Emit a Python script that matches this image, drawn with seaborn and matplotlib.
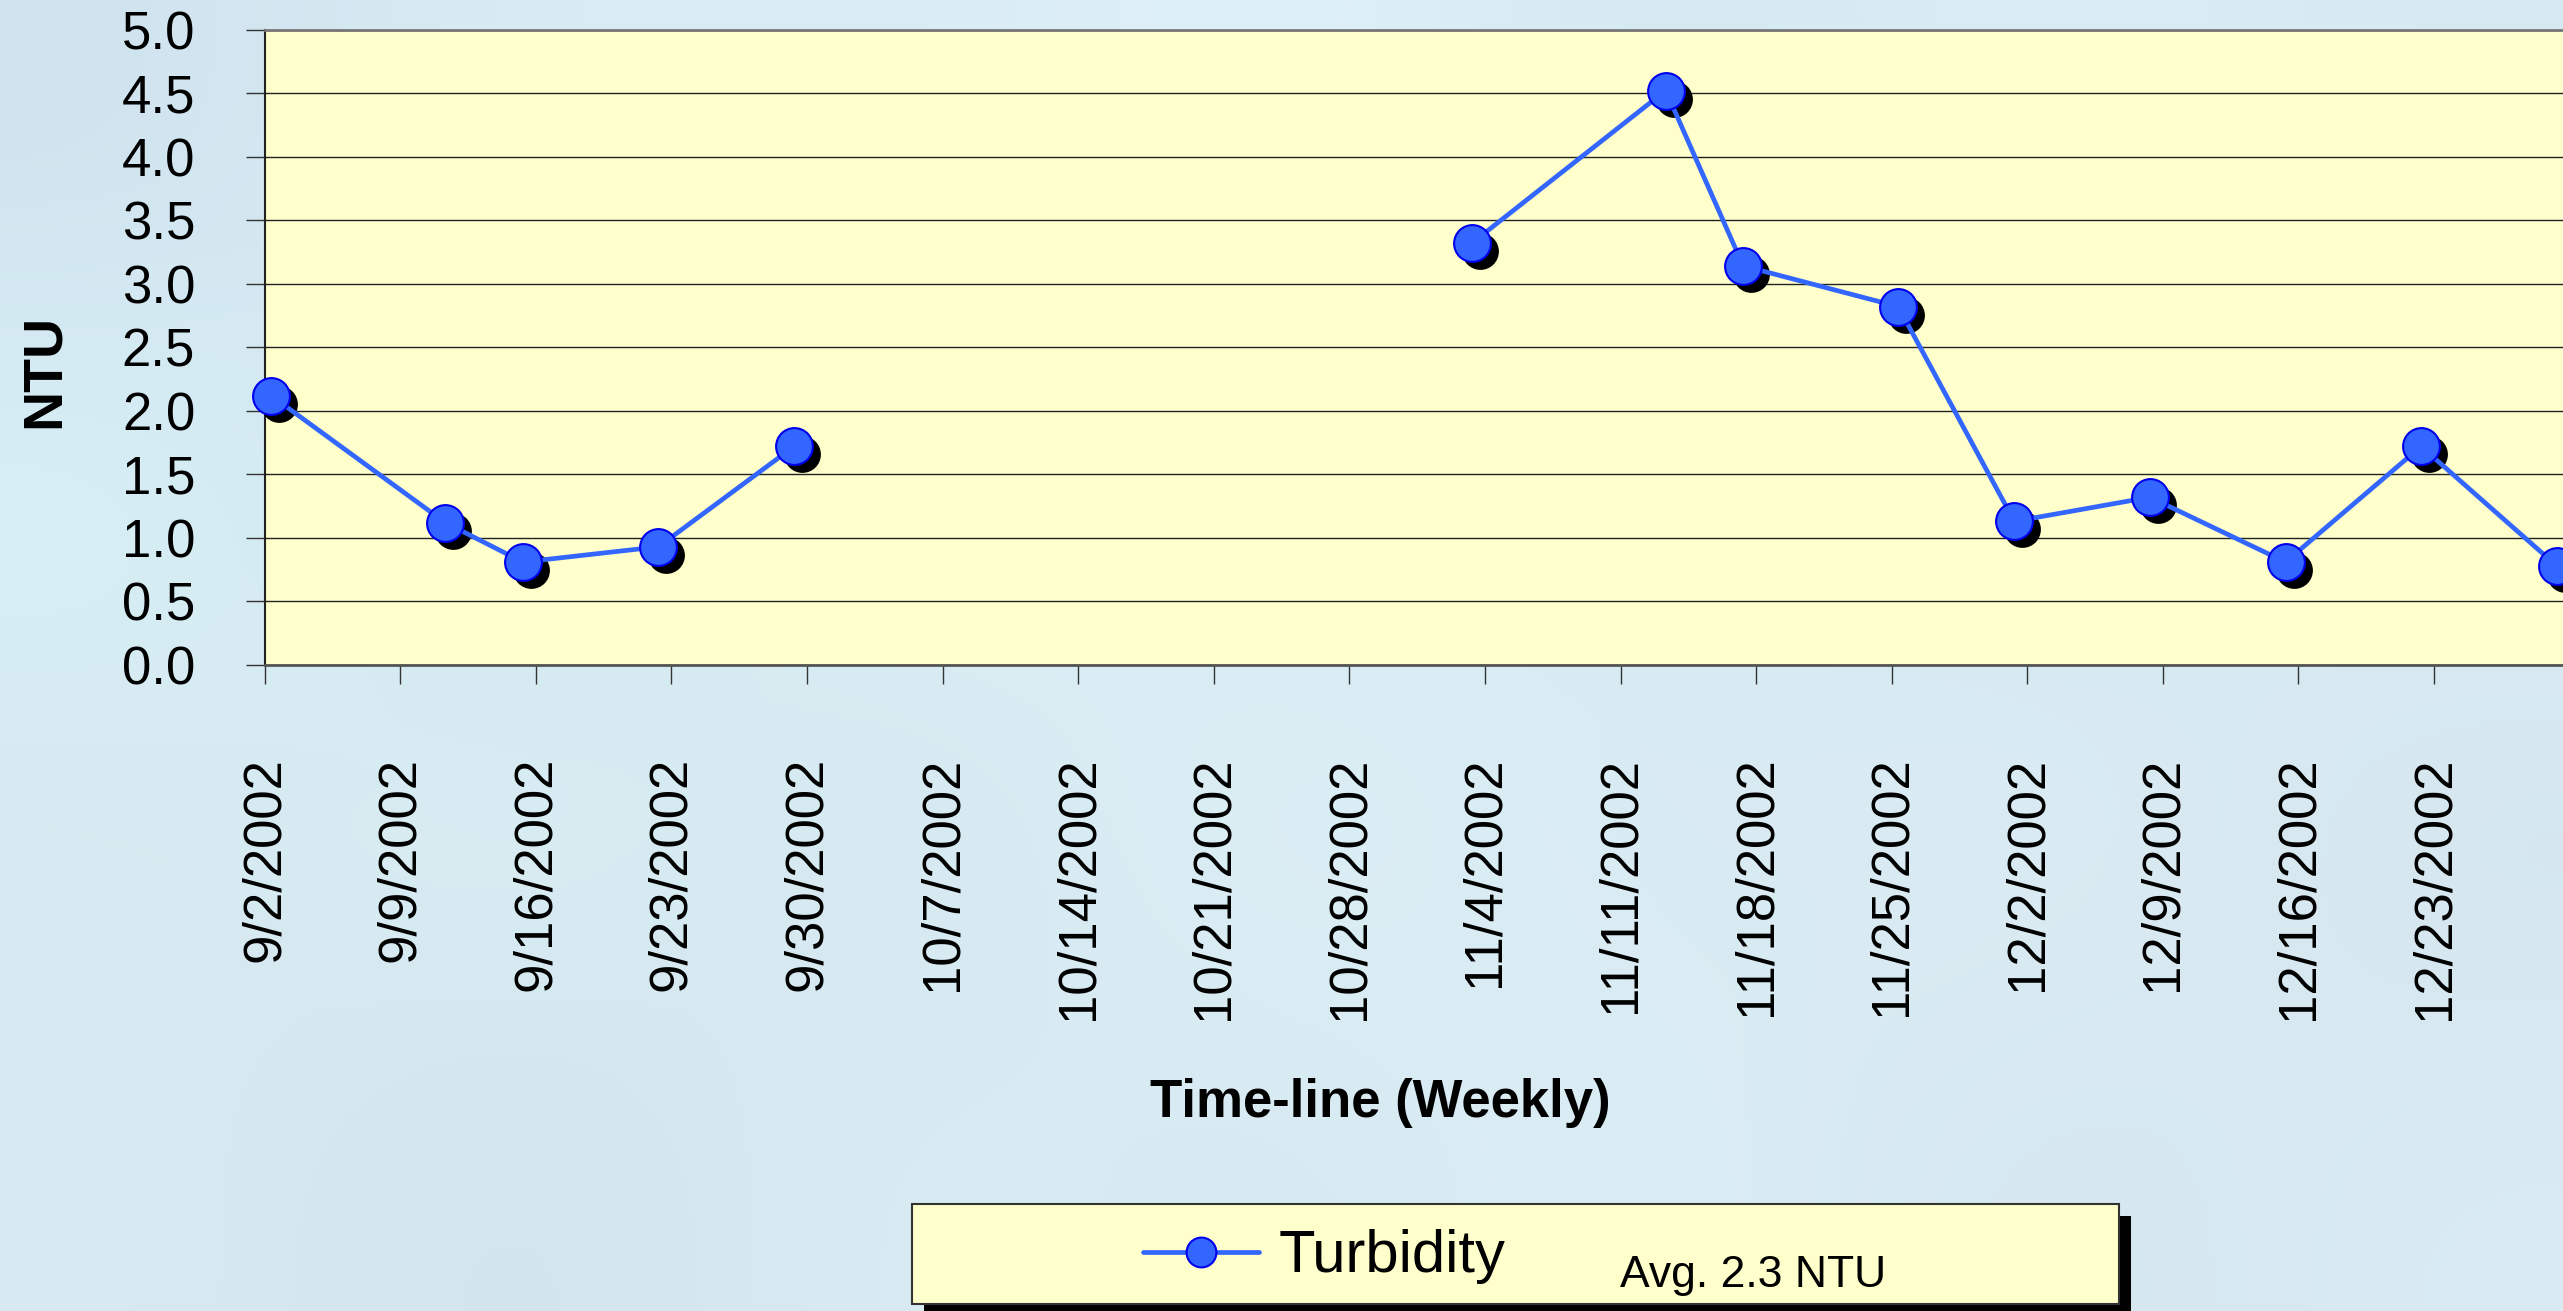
import numpy as np
import pandas as pd
import matplotlib
matplotlib.use("Agg")
import matplotlib.pyplot as plt
import matplotlib.dates as mdates
from matplotlib.colors import to_rgb
from matplotlib.patches import Rectangle
from matplotlib.transforms import ScaledTranslation
import seaborn as sns

# ===================== Data =====================
sample_dates = ["2002-09-02 08:00", "2002-09-11 08:00", "2002-09-15 08:00", "2002-09-22 08:00",
                "2002-09-29 08:00", "2002-11-03 08:00", "2002-11-13 08:00", "2002-11-17 08:00",
                "2002-11-25 08:00", "2002-12-01 08:00", "2002-12-08 08:00", "2002-12-15 08:00",
                "2002-12-22 08:00", "2002-12-29 08:00"]
turbidity = [2.12, 1.12, 0.81, 0.93, 1.72, 3.32, 4.52, 3.14, 2.82, 1.13, 1.32, 0.81, 1.72, 0.78]
# no samples in October -> line is broken in two runs
segment = [0, 0, 0, 0, 0, 1, 1, 1, 1, 1, 1, 1, 1, 1]
week_ticks = pd.date_range("2002-09-02", "2002-12-23", freq="7D")
y_ticks = [0.0, 0.5, 1.0, 1.5, 2.0, 2.5, 3.0, 3.5, 4.0, 4.5, 5.0]
series_label = "Turbidity"
avg_text = "Avg. 2.3 NTU"

df = pd.DataFrame({"date": pd.to_datetime(sample_dates), "ntu": turbidity, "segment": segment})

# ===================== Style =====================
sns.set_theme(style="ticks")
plt.rcParams["font.family"] = ["Liberation Sans", "DejaVu Sans"]
for key in ["text.color", "axes.labelcolor", "xtick.color", "ytick.color"]:
    plt.rcParams[key] = "black"

W, H = 2563, 1311
fig = plt.figure(figsize=(W / 100, H / 100), dpi=100)

# watery background picture (soft blue tones)
bg_hex = [
    ["#CFE2EE", "#DCEFF7", "#D7E9F2", "#E3F4FA", "#D2E6F0", "#DDEFF6", "#D6E8F2"],
    ["#D9F2F8", "#CDE0EA", "#E0F6FA", "#D3E5EE", "#DAEEF6", "#CFE3EE", "#DCEEF5"],
    ["#D5E8EF", "#DDF3F7", "#D1E3EC", "#E2F5F9", "#D6E7F0", "#E0F0F6", "#D3E4EE"],
    ["#D8EAF2", "#CFE1EB", "#DCEEF5", "#D4E6EF", "#DFF1F7", "#D2E4ED", "#DAEBF3"],
]
bg = np.array([[to_rgb(c) for c in row] for row in bg_hex])
bax = fig.add_axes([0, 0, 1, 1], zorder=-10)
bax.imshow(bg, aspect="auto", interpolation="bicubic", extent=[0, 1, 0, 1])
bax.set_axis_off()

# ===================== Plot area =====================
px_per_day = 19.37
left_px, top_px, bottom_px = 264.6, 29.5, 665.0
ax_w = 0.95
days_span = ax_w * W / px_per_day
ax = fig.add_axes([left_px / W, (H - bottom_px) / H, ax_w, (bottom_px - top_px) / H])
ax.set_facecolor("#FFFFCC")

x0 = pd.Timestamp("2002-09-02")
ax.set_xlim(x0, x0 + pd.Timedelta(days=days_span))
ax.set_ylim(0, 5)

# shadow under the markers
shadow = ax.transData + ScaledTranslation(8 / 100, -8 / 100, fig.dpi_scale_trans)
sns.scatterplot(data=df, x="date", y="ntu", color="black", s=26.5 ** 2, linewidth=0,
                transform=shadow, clip_on=False, zorder=3, ax=ax, legend=False)

sns.lineplot(data=df, x="date", y="ntu", units="segment", estimator=None,
             color="#3366FF", linewidth=3.4, marker="o", markersize=26.5,
             markerfacecolor="#3366FF", markeredgecolor="#0000EE", markeredgewidth=1.5,
             clip_on=False, zorder=4, ax=ax, legend=False)

ax.yaxis.grid(True, color="#222222", linewidth=1.0)
ax.xaxis.grid(False)
ax.set_axisbelow(True)

ax.set_yticks(y_ticks)
ax.set_yticklabels([f"{v:.1f}" for v in y_ticks], fontsize=38)
ax.set_xticks(week_ticks)
ax.xaxis.set_major_formatter(mdates.DateFormatter("%-m/%-d/%Y"))
plt.setp(ax.get_xticklabels(), rotation=90, fontsize=38)
ax.tick_params(axis="y", direction="out", length=14, width=1.0, color="#333333", pad=36)
ax.tick_params(axis="x", direction="out", length=14, width=1.0, color="#333333", pad=52)

ax.spines["right"].set_visible(False)
ax.spines["left"].set_color("#222222")
ax.spines["left"].set_linewidth(1.5)
ax.spines["bottom"].set_color("#555555")
ax.spines["bottom"].set_linewidth(2)
ax.spines["top"].set_color("#777777")
ax.spines["top"].set_linewidth(2)

ax_w_px = ax_w * W
ax.set_ylabel("NTU", fontsize=40, fontweight="bold")
ax.yaxis.set_label_coords((70.7 - left_px) / ax_w_px, (bottom_px - 371) / (bottom_px - top_px))
ax.set_xlabel("Time-line (Weekly)", fontsize=38, fontweight="bold")
ax.xaxis.set_label_coords((1380 - left_px) / ax_w_px, (bottom_px - 1078) / (bottom_px - top_px))

# ===================== Legend box =====================
box_x0, box_x1, box_y0, box_y1 = 912, 2119, 1204, 1304
fig.patches.append(Rectangle(((box_x0 + 12) / W, (H - box_y1 - 12) / H), (box_x1 - box_x0) / W,
                             (box_y1 - box_y0) / H, transform=fig.transFigure,
                             facecolor="black", edgecolor="none", zorder=1))
fig.patches.append(Rectangle((box_x0 / W, (H - box_y1) / H), (box_x1 - box_x0) / W,
                             (box_y1 - box_y0) / H, transform=fig.transFigure,
                             facecolor="#FFFFCC", edgecolor="#333333", linewidth=1.5, zorder=2))

leg = fig.legend([ax.lines[0]], [series_label], loc="center left",
                 bbox_to_anchor=(1143 / W, (H - 1257) / H), bbox_transform=fig.transFigure,
                 frameon=False, borderpad=0, borderaxespad=0, handlelength=1.94,
                 handletextpad=0.33, markerscale=0.81, fontsize=43)
leg.set_zorder(5)
fig.text(1620 / W, (H - 1287) / H, avg_text, fontsize=32, va="baseline", ha="left", zorder=5)

fig.savefig("out.png", dpi=100)
